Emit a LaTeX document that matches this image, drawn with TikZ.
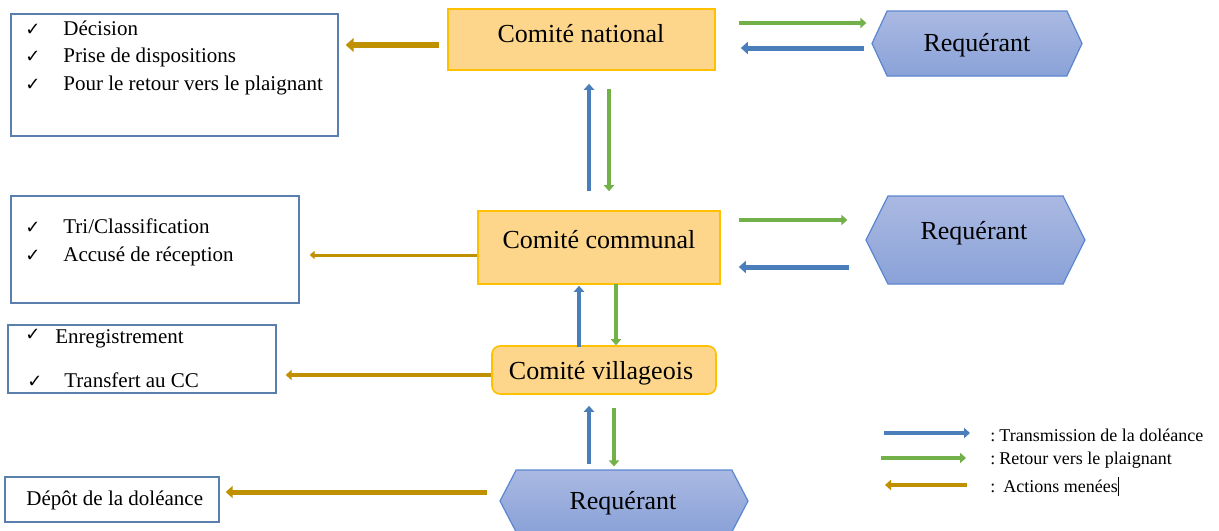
\documentclass[tikz,border=0pt]{standalone}
\usepackage{fontspec}
\setmainfont{Liberation Serif}
\newfontfamily\symfont{DejaVu Sans}
\usetikzlibrary{arrows.meta,shapes.symbols,calc}

\definecolor{blueA}{HTML}{4A7EBB}
\definecolor{greenA}{HTML}{72B04A}
\definecolor{goldA}{HTML}{BF9000}
\definecolor{cFill}{HTML}{FDD68C}
\definecolor{cBorder}{HTML}{FFC000}
\definecolor{hTop}{HTML}{AAB9E2}
\definecolor{hBot}{HTML}{8AA2D8}
\definecolor{hBorder}{HTML}{5B86D0}
\definecolor{lBorder}{HTML}{5B7FAD}

\begin{document}
\begin{tikzpicture}[x=0.5pt,y=-0.5pt,
  comite/.style={draw=cBorder, line width=0.8pt, fill=cFill, inner sep=0pt},
  hexa/.style={signal, signal to=west and east, draw=hBorder, line width=0.6pt,
    top color=hTop, bottom color=hBot, inner sep=0pt},
  listbox/.style={draw=lBorder, line width=0.7pt, inner sep=0pt},
  title/.style={font=\fontsize{13}{15}\selectfont, anchor=base, inner sep=0pt},
  item/.style={font=\fontsize{10.5}{12}\selectfont, anchor=base west, inner sep=0pt},
  tick/.style={font=\symfont\fontsize{9}{11}\selectfont, anchor=base, inner sep=0pt},
  legendtext/.style={font=\fontsize{9}{11}\selectfont, anchor=base west, inner sep=0pt},
  flow/.style={line width=#1, -{Triangle[length=1pt 1, width=1.5pt 1.8]}},
  transmit/.style={flow=#1, draw=blueA, fill=blueA},
  transmit/.default=2pt,
  reply/.style={flow=#1, draw=greenA, fill=greenA},
  reply/.default=2pt,
  action/.style={flow=#1, draw=goldA, fill=goldA},
  action/.default=2pt]

\useasboundingbox (0,0) rectangle (1219,530);

% committees
\node[comite, minimum width=133.5pt, minimum height=30.5pt] (cn) at (581.5,39.5) {};
\node[title] (cnL) at (581,42) {Comité national};
\node[comite, minimum width=121pt, minimum height=36.5pt] (cc) at (599,247.5) {};
\node[title] (ccL) at (599,248) {Comité communal};
\node[comite, rounded corners=4pt, minimum width=112pt, minimum height=24pt] (cv) at (604,370) {};
\node[title] (cvL) at (601,379) {Comité villageois};

% complainants
\node[hexa, signal pointer angle=130, minimum width=105pt, minimum height=32.5pt] (rq1) at (977,43.5) {};
\node[title] (rq1L) at (977,51) {Requérant};
\node[hexa, signal pointer angle=127, minimum width=109.5pt, minimum height=44pt] (rq2) at (975.5,240) {};
\node[title] (rq2L) at (974,239) {Requérant};
\node[hexa, signal pointer angle=125, minimum width=124pt, minimum height=31pt] (rq3) at (624,501) {};
\node[title] (rq3L) at (623,509) {Requérant};

% action boxes
\node[listbox, minimum width=163.5pt, minimum height=61pt] (d1) at (174.5,75) {};
\node[tick] (t11) at (33,35) {✓};
\node[item] (i11) at (63,35) {Décision};
\node[tick] (t12) at (33,62) {✓};
\node[item] (i12) at (63,62) {Prise de dispositions};
\node[tick] (t13) at (33,90) {✓};
\node[item] (i13) at (63,90) {Pour le retour vers le plaignant};

\node[listbox, minimum width=144pt, minimum height=53.5pt] (d2) at (155,249.5) {};
\node[tick] (t21) at (33,233) {✓};
\node[item] (i21) at (63,233) {Tri/Classification};
\node[tick] (t22) at (33,261) {✓};
\node[item] (i22) at (63,261) {Accusé de réception};

\node[listbox, minimum width=134pt, minimum height=34pt] (d3) at (142,359) {};
\node[tick] (t31) at (33,340) {✓};
\node[item] (i31) at (55,343) {Enregistrement};
\node[tick] (t32) at (35,387) {✓};
\node[item] (i32) at (64,387) {Transfert au CC};

\node[listbox, minimum width=107pt, minimum height=22.5pt] (d4) at (112,499.5) {};
\node[item] (i41) at (26,505) {Dépôt de la doléance};

% national level
\draw[action=3pt] ($(cn.west)+(-8,5.5)$) -- ($(d1.east)+(7,-30)$);
\draw[reply] ($(cn.east)+(23,-16.5)$) -- ($(rq1.west)+(-5,-20.5)$);
\draw[transmit=2.5pt] ($(rq1.west)+(-7,4.5)$) -- ($(cn.east)+(25,8.5)$);
\draw[transmit] ($(cc.north)+(-10,-19)$) -- ($(cn.south)+(7.5,13)$);
\draw[reply] ($(cn.south)+(27.5,18)$) -- ($(cc.north)+(10,-19)$);

% communal level
\draw[action=1.5pt] ($(cc.west)+(0,7.5)$) -- ($(d2.east)+(10,5.5)$);
\draw[reply] ($(cc.east)+(18,-27.5)$) -- ($(rq2.west)+(-18,-20)$);
\draw[transmit=2.5pt] ($(rq2.west)+(-16,27)$) -- ($(cc.east)+(18,19.5)$);
\draw[transmit] ($(cv.north)+(-25,2)$) -- ($(cc.south)+(-20,1)$);
\draw[reply] ($(cc.south)+(17,-1)$) -- ($(cv.north)+(12,0)$);

% village level
\draw[action] ($(cv.west)+(0,5)$) -- ($(d3.east)+(9,16)$);
\draw[transmit] ($(rq3.north)+(-35,-5)$) -- ($(cv.south)+(-15,11)$);
\draw[reply] ($(cv.south)+(10,13)$) -- ($(rq3.north)+(-10,-3)$);
\draw[action=2.5pt] ($(rq3.west)+(-12,-9)$) -- ($(d4.east)+(6,-7.5)$);

% legend
\draw[transmit] (884,433) -- (970,433);
\draw[reply] (881,458) -- (966,458);
\draw[action] (967,485) -- (885,485);
\node[legendtext] (l1) at (990,441) {:\hspace{2pt}Transmission de la doléance};
\node[legendtext] (l2) at (990,464) {:\hspace{2pt}Retour vers le plaignant};
\node[legendtext] (l3) at (990,492) {:\hspace{4pt}Actions menées\rule[-2.2pt]{0.7pt}{9.5pt}};
\end{tikzpicture}
\end{document}
